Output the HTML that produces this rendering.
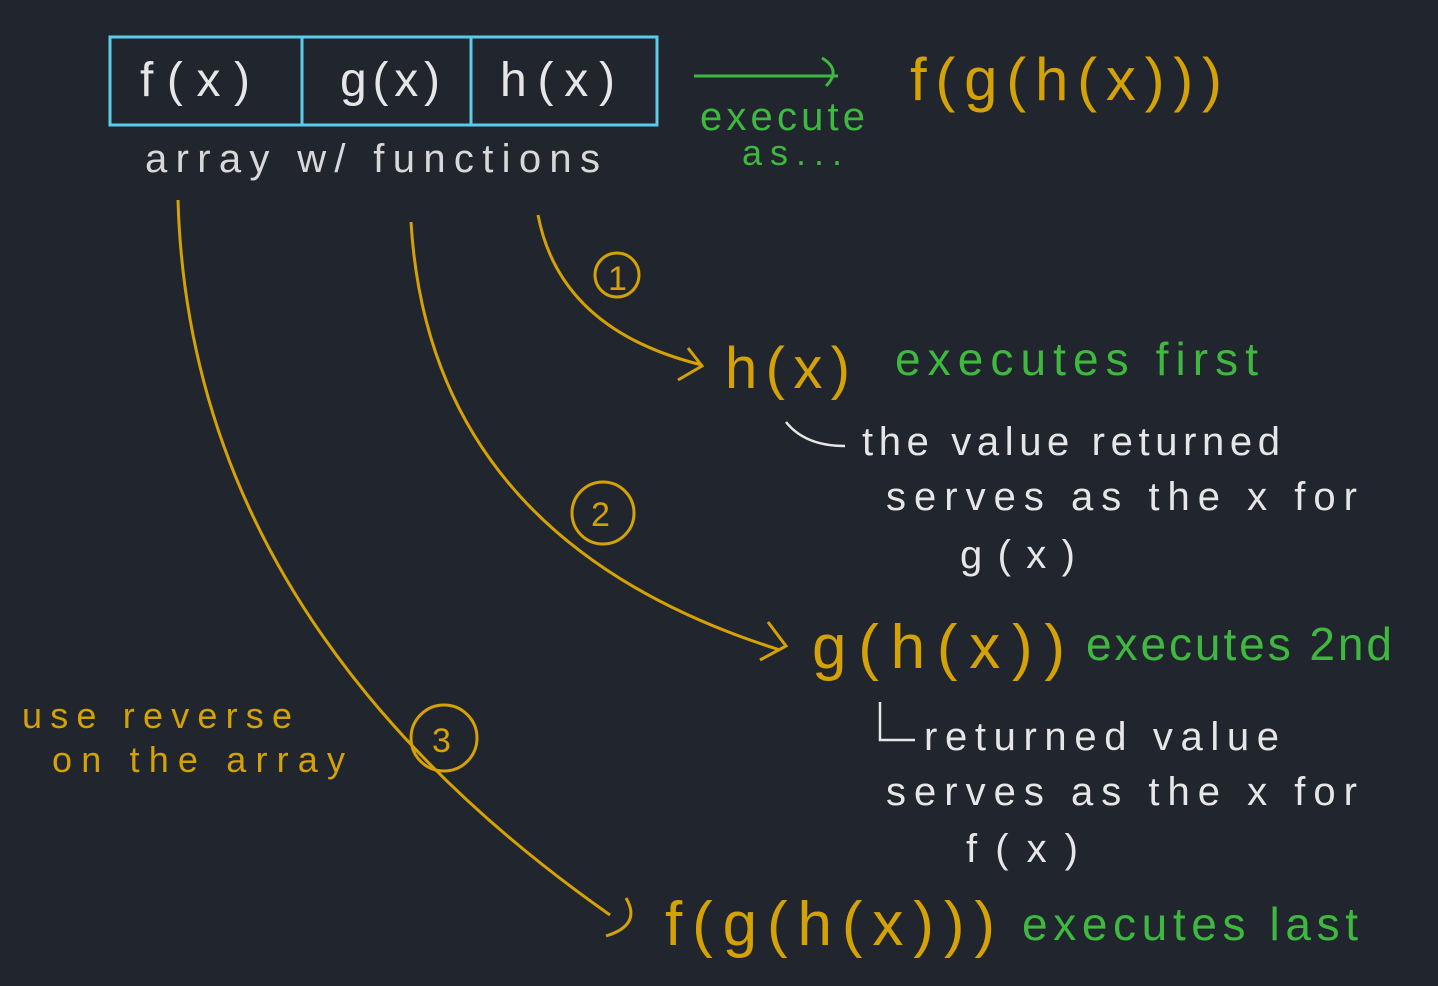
<!DOCTYPE html>
<html><head><meta charset="utf-8"><style>
html,body{margin:0;padding:0;background:#21262e;}
svg{display:block}
text{font-family:"Liberation Sans",sans-serif;}
</style></head><body>
<svg width="1438" height="986" viewBox="0 0 1438 986" xmlns="http://www.w3.org/2000/svg">
<rect width="1438" height="986" fill="#21262e"/>
<g stroke="#5ccbe9" stroke-width="3" fill="none">
<rect x="110" y="37" width="547" height="88"/>
<line x1="302" y1="37" x2="302" y2="125"/>
<line x1="471" y1="37" x2="471" y2="125"/>
</g>
<g fill="#e6e6e6" font-size="48">
<text x="140" y="96" textLength="110" lengthAdjust="spacing">f(x)</text>
<text x="340" y="96" textLength="100" lengthAdjust="spacing">g(x)</text>
<text x="500" y="96" textLength="115" lengthAdjust="spacing">h(x)</text>
</g>
<text x="145" y="172" fill="#d8d8d8" font-size="40" textLength="455" lengthAdjust="spacing">array w/ functions</text>
<g stroke="#3fb83f" stroke-width="3" fill="none">
<line x1="694" y1="76" x2="838" y2="76"/>
<path d="M822 58 Q842 70 826 86"/>
</g>
<text x="700" y="130" fill="#3fb83f" font-size="40" textLength="165" lengthAdjust="spacing">execute</text>
<text x="742" y="165" fill="#3fb83f" font-size="36" textLength="100" lengthAdjust="spacing">as...</text>
<text x="910" y="100" fill="#d4a106" font-size="60" textLength="312" lengthAdjust="spacing">f(g(h(x)))</text>
<g stroke="#d4a106" stroke-width="3" fill="none">
<path d="M538 215 Q560 330 702 365"/>
<path d="M688 348 L702 366 L678 380"/>
<path d="M411 222 Q430 540 780 650"/>
<path d="M768 622 L786 646 L760 660"/>
<path d="M178 200 Q190 620 610 915"/>
<path d="M626 898 Q642 925 606 936"/>
<circle cx="617" cy="275" r="22"/>
<circle cx="603" cy="513" r="31"/>
<circle cx="444" cy="738" r="33"/>
</g>
<g fill="#d4a106" font-size="34">
<text x="608" y="290">1</text>
<text x="591" y="526">2</text>
<text x="432" y="752">3</text>
</g>
<text x="725" y="388" fill="#d4a106" font-size="58" textLength="125" lengthAdjust="spacing">h(x)</text>
<text x="895" y="375" fill="#3fb83f" font-size="46" textLength="363" lengthAdjust="spacing">executes first</text>
<path d="M786 422 Q805 446 845 446" stroke="#e6e6e6" stroke-width="2.5" fill="none"/>
<g fill="#e6e6e6" font-size="40">
<text x="862" y="455" textLength="418" lengthAdjust="spacing">the value returned</text>
<text x="886" y="510" textLength="471" lengthAdjust="spacing">serves as the x for</text>
<text x="960" y="568" textLength="115" lengthAdjust="spacing">g(x)</text>
<text x="924" y="750" textLength="355" lengthAdjust="spacing">returned value</text>
<text x="886" y="805" textLength="471" lengthAdjust="spacing">serves as the x for</text>
<text x="966" y="862" textLength="112" lengthAdjust="spacing">f(x)</text>
</g>
<path d="M880 702 L880 740 L915 740" stroke="#e6e6e6" stroke-width="2.5" fill="none"/>
<text x="812" y="668" fill="#d4a106" font-size="62" textLength="253" lengthAdjust="spacing">g(h(x))</text>
<text x="1086" y="660" fill="#3fb83f" font-size="46" textLength="306" lengthAdjust="spacing">executes 2nd</text>
<text x="22" y="728" fill="#d4a106" font-size="36" textLength="270" lengthAdjust="spacing">use reverse</text>
<text x="52" y="772" fill="#d4a106" font-size="36" textLength="293" lengthAdjust="spacing">on the array</text>
<text x="665" y="945" fill="#d4a106" font-size="62" textLength="330" lengthAdjust="spacing">f(g(h(x)))</text>
<text x="1022" y="940" fill="#3fb83f" font-size="46" textLength="336" lengthAdjust="spacing">executes last</text>
</svg>
</body></html>
